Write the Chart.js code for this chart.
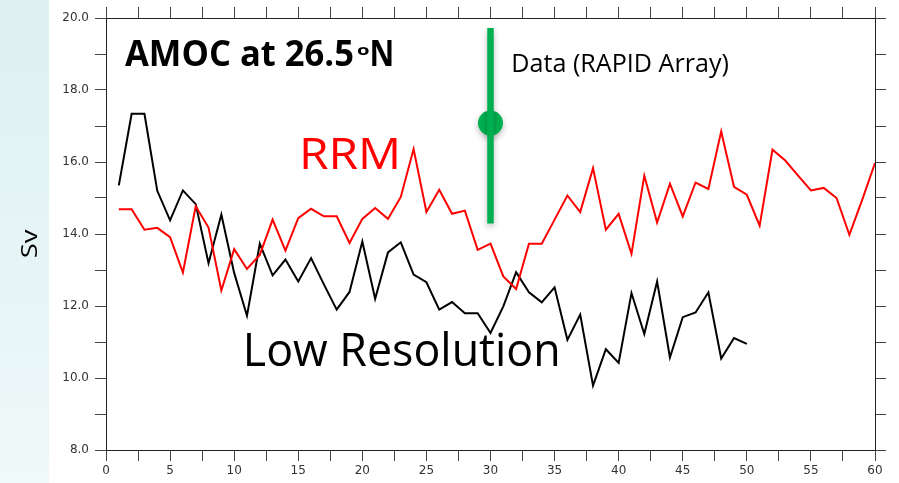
<!DOCTYPE html>
<html>
<head>
<meta charset="utf-8">
<script src="https://cdn.jsdelivr.net/npm/chart.js@4.4.1/dist/chart.umd.min.js"></script>
<style>
  html, body { margin: 0; padding: 0; }
  body {
    width: 899px; height: 483px; overflow: hidden;
    background:
      linear-gradient(to right, rgba(255,255,255,0) 0, rgba(255,255,255,0) 49px, #ffffff 49px, #ffffff 100%),
      linear-gradient(to bottom, #dff0f1 0%, #e6f4f5 55%, #eff9fa 100%);
  }
  canvas { display: block; }
</style>
</head>
<body>
<canvas id="c" width="899" height="483"></canvas>
<script>
// ---- data ----
const years = [1,2,3,4,5,6,7,8,9,10,11,12,13,14,15,16,17,18,19,20,
               21,22,23,24,25,26,27,28,29,30,31,32,33,34,35,36,37,38,39,40,
               41,42,43,44,45,46,47,48,49,50,51,52,53,54,55,56,57,58,59,60];

const rrm = [14.69,14.69,14.12,14.17,13.91,12.93,14.77,14.18,12.43,13.58,
             13.03,13.42,14.40,13.54,14.44,14.70,14.49,14.49,13.75,14.42,
             14.72,14.42,15.03,16.36,14.61,15.23,14.56,14.65,13.56,13.73,
             12.82,12.47,13.73,13.73,14.40,15.07,14.61,15.83,14.12,14.56,
             13.45,15.62,14.32,15.40,14.49,15.43,15.25,16.85,15.31,15.09,
             14.23,16.34,16.04,15.62,15.21,15.28,15.00,13.98,14.95,15.97];

const lowRes = [15.35,17.34,17.34,15.20,14.38,15.21,14.83,13.19,14.54,12.92,
                11.73,13.73,12.85,13.29,12.68,13.33,12.60,11.90,12.39,13.79,
                12.20,13.49,13.77,12.87,12.66,11.90,12.11,11.80,11.80,11.25,
                11.99,12.94,12.38,12.10,12.52,11.06,11.76, 9.79,10.80,10.42,
                12.36,11.22,12.68,10.57,11.69,11.82,12.38,10.54,11.11,10.95];

const rapidYear = 30;
const rapidRange = [14.29, 19.72];
const rapidMean = 17.08;

const xTickStep = 2.5, xLabelStep = 5;
const yTickStep = 1, yLabelStep = 2;
const xMin = 0, xMax = 60, yMin = 8, yMax = 20;

// ---- build datasets ----
const rrmPts = years.map((x, i) => ({ x, y: rrm[i] }));
const lowPts = lowRes.map((y, i) => ({ x: years[i], y }));
const barPts = rapidRange.map(y => ({ x: rapidYear, y }));
const dotPts = [{ x: rapidYear, y: rapidMean }];

const GREEN = '#00B050';
const tickFont = { family: 'DejaVu Sans', size: 12 };
const gridCommon = { drawOnChartArea: false, drawTicks: true, tickLength: 11, color: '#444', lineWidth: 1 };
const borderCommon = { color: '#222', width: 1 };

function fitInk(ctx, text, x, baseline, capH, inkW, weight, color, family) {
  const size = capH / 0.714;
  ctx.save();
  ctx.font = weight + ' ' + size + 'px "' + family + '"';
  ctx.textBaseline = 'alphabetic';
  ctx.textAlign = 'left';
  const m = ctx.measureText(text);
  const w = m.actualBoundingBoxRight + m.actualBoundingBoxLeft;
  const sx = inkW / w;
  ctx.translate(x, baseline);
  ctx.scale(sx, 1);
  ctx.fillStyle = color;
  ctx.fillText(text, m.actualBoundingBoxLeft, 0);
  ctx.restore();
}

const annotations = {
  id: 'annotations',
  beforeDatasetDraw(chart, args) {
    if (args.meta.label === 'rapid-bar' || args.meta.label === 'rapid-dot') {
      const c = chart.ctx;
      c.save();
      c.shadowColor = 'rgba(0,0,0,0.28)';
      c.shadowBlur = 6;
      c.shadowOffsetY = 3;
    }
  },
  afterDatasetDraw(chart, args) {
    if (args.meta.label === 'rapid-bar' || args.meta.label === 'rapid-dot') {
      chart.ctx.restore();
    }
  },
  afterDraw(chart) {
    const c = chart.ctx;
    const F = 'Open Sans';
    // Title
    fitInk(c, 'AMOC at 26.5', 125, 65.7, 25, 228, 'bold', '#000', F);
    fitInk(c, 'o', 357, 55, 10, 13, 'bold', '#000', F);
    fitInk(c, 'N', 372, 65.7, 25, 20, 'bold', '#000', F);
    // Series labels
    fitInk(c, 'RRM', 303.3, 169.3, 31, 93.4, 'normal', '#FF0000', F);
    fitInk(c, 'Low Resolution', 246.7, 366, 32.7, 311, 'normal', '#000', F);
    fitInk(c, 'Data (RAPID Array)', 513.3, 71.7, 18.4, 215, 'normal', '#000', F);
    // Y axis title
    c.save();
    c.translate(36.7, 257);
    c.rotate(-Math.PI / 2);
    fitInk(c, 'Sv', 0, 0, 15, 28, 'normal', '#000', F);
    c.restore();
  }
};

new Chart(document.getElementById('c'), {
  type: 'line',
  data: {
    datasets: [
      { label: 'RRM', data: rrmPts, borderColor: '#FF0000', borderWidth: 2, pointRadius: 0, tension: 0, fill: false, xAxisID: 'x', yAxisID: 'y' },
      { label: 'Low Resolution', data: lowPts, borderColor: '#000000', borderWidth: 2, pointRadius: 0, tension: 0, fill: false, xAxisID: 'x', yAxisID: 'y' },
      { label: 'rapid-bar', data: barPts, borderColor: GREEN, borderWidth: 6.5, borderCapStyle: 'butt', pointRadius: 0, fill: false, xAxisID: 'x', yAxisID: 'y' },
      { label: 'rapid-dot', data: dotPts, showLine: false, pointRadius: 12.5, pointBackgroundColor: GREEN, pointBorderColor: GREEN, pointBorderWidth: 0, xAxisID: 'x', yAxisID: 'y' }
    ]
  },
  options: {
    responsive: false,
    animation: false,
    events: [],
    layout: { padding: 0 },
    plugins: { legend: { display: false }, tooltip: { enabled: false } },
    scales: {
      x: {
        type: 'linear', position: 'bottom', min: xMin, max: xMax,
        grid: gridCommon, border: borderCommon,
        ticks: { stepSize: xTickStep, autoSkip: false, maxRotation: 0, padding: 3, color: '#333', font: tickFont,
                 callback: v => (Math.abs(v % xLabelStep) < 1e-9 ? String(v) : '') },
        afterFit: s => { s.height = 33; }
      },
      xTop: {
        type: 'linear', position: 'top', min: xMin, max: xMax,
        grid: gridCommon, border: borderCommon,
        ticks: { stepSize: xTickStep, autoSkip: false, maxRotation: 0, padding: 0, font: tickFont, callback: () => '' },
        afterFit: s => { s.height = 18; }
      },
      y: {
        type: 'linear', position: 'left', min: yMin, max: yMax,
        grid: gridCommon, border: borderCommon,
        ticks: { stepSize: yTickStep, autoSkip: false, padding: 6, color: '#333', font: tickFont,
                 callback: v => (Math.abs(v % yLabelStep) < 1e-9 ? v.toFixed(1) : '') },
        afterFit: s => { s.width = 106; }
      },
      yRight: {
        type: 'linear', position: 'right', min: yMin, max: yMax,
        grid: gridCommon, border: borderCommon,
        ticks: { stepSize: yTickStep, autoSkip: false, padding: 0, font: tickFont, callback: () => '' },
        afterFit: s => { s.width = 24; }
      }
    }
  },
  plugins: [annotations]
});
</script>
</body>
</html>
